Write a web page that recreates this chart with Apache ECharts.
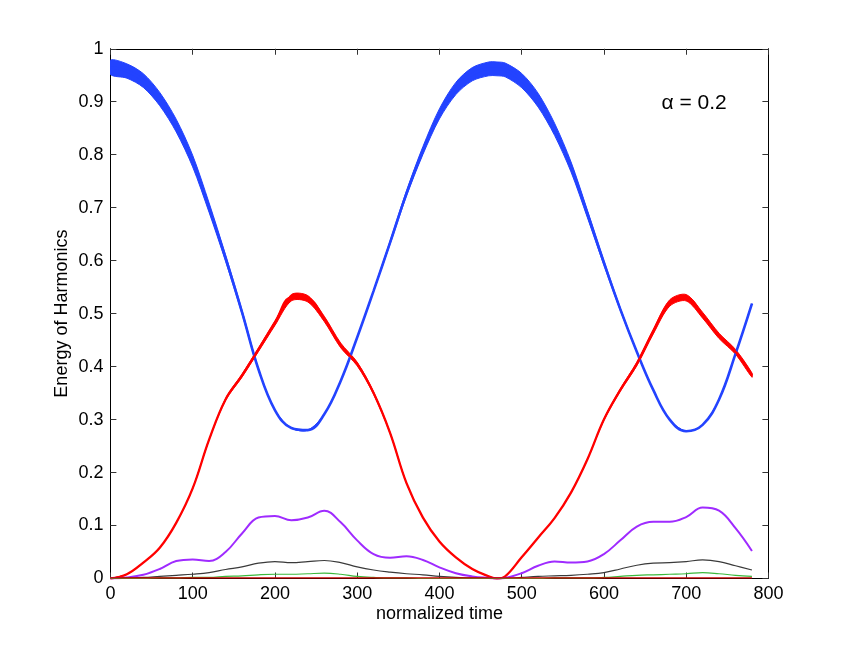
<!DOCTYPE html>
<html>
<head>
<meta charset="utf-8">
<script src="https://cdn.jsdelivr.net/npm/echarts@6/dist/echarts.min.js"></script>
<style>html,body{margin:0;padding:0;background:#fff;}#c{width:849px;height:650px;}</style>
</head>
<body>
<div id="c"></div>
<script>
// normalized time samples
const time = [0,20,40,60,80,100,120,140,160,180,200,220,240,260,280,300,320,340,360,380,400,420,440,460,470,480,500,520,540,560,580,600,620,640,660,680,700,720,740,760,780];
// harmonic 1 (blue): centre value and total width of its fast-oscillation band
const blue = [0.965,0.958,0.940,0.905,0.855,0.788,0.700,0.605,0.503,0.395,0.318,0.284,0.280,0.310,0.373,0.455,0.543,0.634,0.727,0.808,0.877,0.925,0.952,0.962,0.962,0.960,0.940,0.903,0.848,0.777,0.688,0.596,0.508,0.428,0.356,0.300,0.278,0.290,0.338,0.424,0.519];
const blueBand = [0.027,0.027,0.026,0.025,0.024,0.022,0.018,0.012,0.007,0.003,0,0,0,0,0,0,0.002,0.006,0.010,0.015,0.019,0.023,0.025,0.026,0.026,0.026,0.027,0.026,0.023,0.019,0.014,0.009,0.005,0.002,0,0,0,0,0,0,0];
// harmonic 2 (red)
const red = [0,0.008,0.030,0.058,0.105,0.170,0.262,0.338,0.383,0.432,0.482,0.530,0.528,0.490,0.440,0.405,0.350,0.275,0.180,0.115,0.070,0.040,0.018,0.004,0,0.004,0.040,0.077,0.114,0.162,0.225,0.300,0.356,0.405,0.466,0.520,0.530,0.497,0.458,0.428,0.384];
const redBand = [0,0,0,0,0,0,0,0.004,0.006,0.007,0.009,0.012,0.012,0.010,0.009,0.007,0.005,0.002,0,0,0,0,0,0,0,0,0,0,0,0,0,0.003,0.005,0.007,0.009,0.012,0.012,0.011,0.010,0.009,0.008];
// harmonic 3 (purple)
const purple = [0,0.002,0.007,0.018,0.033,0.036,0.033,0.050,0.085,0.115,0.118,0.110,0.115,0.128,0.106,0.072,0.046,0.039,0.042,0.035,0.021,0.010,0.004,0.001,0,0.001,0.010,0.024,0.032,0.030,0.032,0.046,0.072,0.098,0.107,0.107,0.116,0.134,0.128,0.095,0.052];
// harmonic 4 (black)
const black = [0,0.001,0.002,0.004,0.006,0.008,0.011,0.017,0.022,0.029,0.032,0.030,0.032,0.034,0.030,0.022,0.016,0.012,0.009,0.007,0.004,0.002,0.001,0,0,0,0.002,0.004,0.005,0.006,0.008,0.011,0.018,0.025,0.029,0.030,0.032,0.035,0.032,0.024,0.016];
// harmonic 5 (green)
const green = [0,0,0,0.001,0.001,0.002,0.002,0.004,0.005,0.007,0.008,0.008,0.009,0.010,0.008,0.004,0.002,0.001,0.001,0,0,0,0,0,0,0,0,0,0.001,0.001,0.001,0.002,0.004,0.006,0.007,0.008,0.009,0.011,0.009,0.006,0.004];
// harmonic 6 (dark red, near zero)
const sixth = [0.001,0.001,0.001,0.001,0.001,0.001,0.001,0.001,0.001,0.001,0.001,0.001,0.001,0.001,0.001,0.001,0.001,0.001,0.001,0.001,0.001,0.001,0.001,0.001,0.001,0.001,0.001,0.001,0.001,0.001,0.001,0.001,0.001,0.001,0.001,0.001,0.001,0.001,0.001,0.001,0.001];

const xTicks = {min:0, max:800, interval:100};
const yTicks = {min:0, max:1, interval:0.1};

const FONT = 'Liberation Sans';
const SMOOTH = 0.4;
const pair = (arr) => time.map((t,i)=>[t, arr[i]]);

function bandSeries(name, centre, band, color, width){
  return [
    {name:name+'fill', type:'custom', clip:true, z:1, silent:true,
     data:[[time[0], centre[0]]],
     renderItem:function(params, api){
       if (params.dataIndex !== 0) return;
       const pu = time.map((t,i)=>api.coord([t, centre[i] + band[i]/2]));
       const pl = time.map((t,i)=>api.coord([t, centre[i] - band[i]/2])).reverse();
       return {type:'polygon', shape:{points:pu.concat(pl), smooth:0.3},
               style:{fill:color, stroke:color, lineWidth:1}};
     }},
    {name:name, type:'line', data:pair(centre), smooth:SMOOTH, symbol:'none',
     lineStyle:{color:color, width:width}, z:2}
  ];
}
function lineSeries(name, arr, color, width){
  return {name:name, type:'line', data:pair(arr), smooth:SMOOTH, symbol:'none',
    lineStyle:{color:color, width:width}, z:3};
}

const axisCommon = {
  type:'value',
  axisLine:{show:true, onZero:false, lineStyle:{color:'#000', width:1}},
  axisTick:{show:true, inside:true, length:6, lineStyle:{color:'#333', width:1}},
  splitLine:{show:false}
};

const chart = echarts.init(document.getElementById('c'), null, {renderer:'canvas'});
chart.setOption({
  animation:false,
  backgroundColor:'#fff',
  grid:{left:110.4, right:80.6, top:48.75, bottom:71.5, containLabel:false},
  xAxis:[
    Object.assign({}, axisCommon, xTicks, {position:'bottom',
      axisLabel:{color:'#000', fontSize:18, fontFamily:FONT, margin:7, showMinLabel:true, showMaxLabel:true}}),
    Object.assign({}, axisCommon, xTicks, {position:'top', axisLabel:{show:false}})
  ],
  yAxis:[
    Object.assign({}, axisCommon, yTicks, {position:'left',
      axisLabel:{color:'#000', fontSize:18, fontFamily:FONT, margin:7, showMinLabel:true, showMaxLabel:true}}),
    Object.assign({}, axisCommon, yTicks, {position:'right', axisLabel:{show:false}})
  ],
  series:[
    ...bandSeries('h1', blue, blueBand, '#2343ff', 2.6),
    ...bandSeries('h2', red, redBand, '#ff0000', 2.3),
    lineSeries('h3', purple, '#9f2bff', 2),
    lineSeries('h4', black, '#3a3a3a', 1.2),
    lineSeries('h5', green, '#3cb83c', 1.2),
    lineSeries('h6', sixth, '#cc0000', 1.2)
  ],
  graphic:[
    {type:'text', x:439.4, y:614, style:{text:'normalized time', fontSize:18, fontFamily:FONT, fill:'#000', textAlign:'center', textVerticalAlign:'middle'}},
    {type:'text', x:62, y:313.6, rotation:Math.PI/2, style:{text:'Energy of Harmonics', fontSize:18, fontFamily:FONT, fill:'#000', textAlign:'center', textVerticalAlign:'middle'}},
    {type:'text', x:661.5, y:103, style:{text:'α = 0.2', fontSize:21, fontFamily:FONT, fill:'#000', textAlign:'left', textVerticalAlign:'middle'}}
  ]
});
</script>
</body>
</html>
